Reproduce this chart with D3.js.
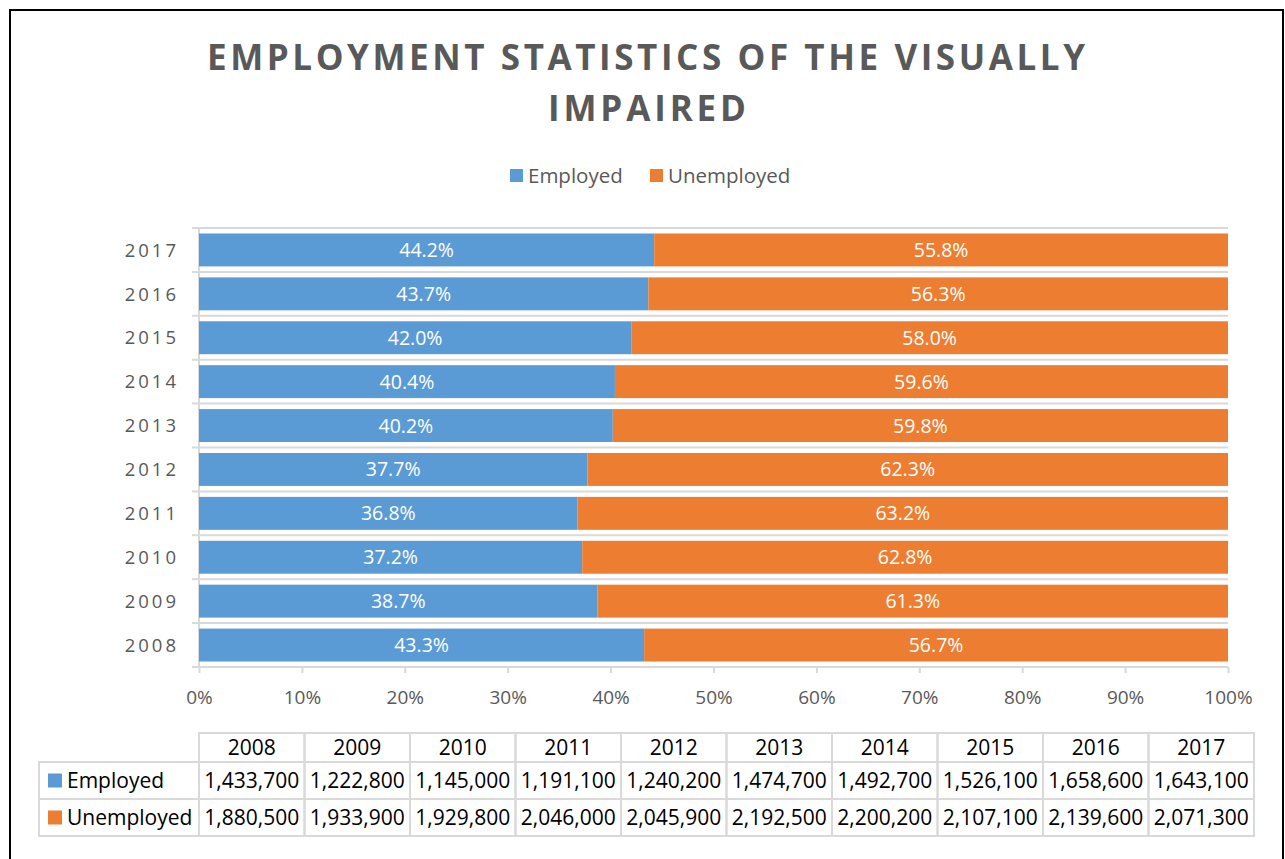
<!DOCTYPE html>
<html>
<head>
<meta charset="utf-8">
<script src="https://cdn.jsdelivr.net/npm/d3@7"></script>
<style>
  body { margin: 0; background: #fff; }
  svg { display: block; font-family: "Open Sans", "Noto Sans", sans-serif; }
</style>
</head>
<body>
<div id="chart"></div>
<script>
// Employment statistics of the visually impaired, 2008-2017
const years = ["2008", "2009", "2010", "2011", "2012", "2013", "2014", "2015", "2016", "2017"];
const employed = [1433700, 1222800, 1145000, 1191100, 1240200, 1474700, 1492700, 1526100, 1658600, 1643100];
const unemployed = [1880500, 1933900, 1929800, 2046000, 2045900, 2192500, 2200200, 2107100, 2139600, 2071300];
const seriesNames = ["Employed", "Unemployed"];
const seriesColors = ["#5B9BD5", "#ED7D31"];
const xTicks = [0, 0.1, 0.2, 0.3, 0.4, 0.5, 0.6, 0.7, 0.8, 0.9, 1];

const width = 1285, height = 859;
const textGray = "#595959";
const gridGray = "#d9d9d9";

const svg = d3.select("#chart").append("svg")
  .attr("width", width)
  .attr("height", height);

// outer frame
svg.append("rect")
  .attr("x", 10).attr("y", 10)
  .attr("width", 1273).attr("height", 870)
  .attr("fill", "#fff")
  .attr("stroke", "#000")
  .attr("stroke-width", 2);

// title (letter-spaced, like the original)
const title = svg.append("g").attr("fill", textGray)
  .attr("font-weight", "bold")
  .attr("font-size", 35)
  .attr("text-anchor", "middle");
title.append("text").attr("x", 646).attr("y", 70)
  .attr("textLength", 878).attr("lengthAdjust", "spacing")
  .text("EMPLOYMENT STATISTICS OF THE VISUALLY");
title.append("text").attr("x", 647).attr("y", 121)
  .attr("textLength", 198).attr("lengthAdjust", "spacing")
  .text("IMPAIRED");

// legend
const legendX = [510, 650];
seriesNames.forEach((name, i) => {
  svg.append("rect")
    .attr("x", legendX[i]).attr("y", 169)
    .attr("width", 13).attr("height", 13)
    .attr("fill", seriesColors[i]);
  svg.append("text")
    .attr("x", legendX[i] + 18).attr("y", 183)
    .attr("fill", textGray)
    .attr("font-size", 20.5)
    .text(name);
});

// scales
const x = d3.scaleLinear().domain([0, 1]).range([199, 1228]);
const y = d3.scaleBand()
  .domain(years.slice().reverse())
  .range([228, 667])
  .paddingInner(0.25)
  .paddingOuter(0.125);

const rows = years.map((yr, i) => {
  const total = employed[i] + unemployed[i];
  return { year: yr, emp: employed[i] / total, unemp: unemployed[i] / total };
});

// horizontal gridlines at category boundaries
const bounds = y.domain().map(d => y(d) - y.step() * y.paddingInner() / 2);
bounds.push(y.range()[1]);
svg.append("g").selectAll("line")
  .data(bounds)
  .enter().append("line")
  .attr("x1", 192).attr("x2", x(1))
  .attr("y1", d => d).attr("y2", d => d)
  .attr("stroke", gridGray)
  .attr("stroke-width", 2);

// vertical axis line
svg.append("line")
  .attr("x1", x(0)).attr("x2", x(0))
  .attr("y1", 228).attr("y2", 667)
  .attr("stroke", gridGray)
  .attr("stroke-width", 2);

// x axis
const xAxis = svg.append("g")
  .attr("transform", "translate(0,667)")
  .call(d3.axisBottom(x).tickValues(xTicks).tickFormat(d3.format(".0%")).tickSize(6).tickPadding(18));
xAxis.select(".domain").remove();
xAxis.selectAll(".tick line").attr("stroke", gridGray).attr("stroke-width", 2);
xAxis.selectAll(".tick text")
  .attr("fill", textGray)
  .attr("font-size", 19)
  .attr("font-family", "Open Sans, sans-serif");

// year labels
svg.append("g").selectAll("text")
  .data(rows)
  .enter().append("text")
  .attr("x", 179)
  .attr("y", d => y(d.year) + y.bandwidth() / 2)
  .attr("dy", "0.36em")
  .attr("text-anchor", "end")
  .attr("fill", textGray)
  .attr("font-size", 18.5)
  .attr("letter-spacing", 3)
  .text(d => d.year);

// stacked bars
const bars = svg.append("g");
bars.selectAll("rect.emp")
  .data(rows)
  .enter().append("rect")
  .attr("class", "emp")
  .attr("x", x(0))
  .attr("y", d => y(d.year))
  .attr("width", d => x(d.emp) - x(0))
  .attr("height", y.bandwidth())
  .attr("fill", seriesColors[0]);
bars.selectAll("rect.unemp")
  .data(rows)
  .enter().append("rect")
  .attr("class", "unemp")
  .attr("x", d => x(d.emp))
  .attr("y", d => y(d.year))
  .attr("width", d => x(1) - x(d.emp))
  .attr("height", y.bandwidth())
  .attr("fill", seriesColors[1]);

// bar labels
const pct = d3.format(".1%");
const labels = svg.append("g")
  .attr("fill", "#fff")
  .attr("font-size", 19.5)
  .attr("text-anchor", "middle");
labels.selectAll("text.emp")
  .data(rows)
  .enter().append("text")
  .attr("x", d => (x(0) + x(d.emp)) / 2)
  .attr("y", d => y(d.year) + y.bandwidth() / 2)
  .attr("dy", "0.36em")
  .text(d => pct(d.emp));
labels.selectAll("text.unemp")
  .data(rows)
  .enter().append("text")
  .attr("x", d => (x(d.emp) + x(1)) / 2)
  .attr("y", d => y(d.year) + y.bandwidth() / 2)
  .attr("dy", "0.36em")
  .text(d => pct(d.unemp));

// data table below the chart
const col = d3.scaleBand().domain(years).range([199, 1254]);
const rowY = [733, 762, 799, 836];
const table = svg.append("g");
const fmt = d3.format(",");

// header cells
table.selectAll("rect.head")
  .data(years)
  .enter().append("rect")
  .attr("x", d => col(d)).attr("y", rowY[0])
  .attr("width", col.bandwidth()).attr("height", rowY[1] - rowY[0])
  .attr("fill", "none").attr("stroke", gridGray).attr("stroke-width", 2);
table.selectAll("text.head")
  .data(years)
  .enter().append("text")
  .attr("x", d => col(d) + col.bandwidth() / 2)
  .attr("y", (rowY[0] + rowY[1]) / 2)
  .attr("dy", "0.36em")
  .attr("text-anchor", "middle")
  .attr("font-size", 21)
  .attr("fill", "#000")
  .text(d => d);

[employed, unemployed].forEach((vals, r) => {
  const top = rowY[r + 1], bottom = rowY[r + 2], mid = (top + bottom) / 2;
  // row label cell
  table.append("rect")
    .attr("x", 39).attr("y", top)
    .attr("width", 199 - 39).attr("height", bottom - top)
    .attr("fill", "none").attr("stroke", gridGray).attr("stroke-width", 2);
  table.append("rect")
    .attr("x", 48).attr("y", mid - 7)
    .attr("width", 14).attr("height", 14)
    .attr("fill", seriesColors[r]);
  table.append("text")
    .attr("x", 67).attr("y", mid)
    .attr("dy", "0.36em")
    .attr("font-size", 21)
    .attr("fill", "#000")
    .text(seriesNames[r]);
  // value cells
  table.selectAll("rect.v" + r)
    .data(years)
    .enter().append("rect")
    .attr("x", d => col(d)).attr("y", top)
    .attr("width", col.bandwidth()).attr("height", bottom - top)
    .attr("fill", "none").attr("stroke", gridGray).attr("stroke-width", 2);
  table.selectAll("text.v" + r)
    .data(vals)
    .enter().append("text")
    .attr("x", (d, i) => col(years[i]) + col.bandwidth() / 2)
    .attr("y", mid)
    .attr("dy", "0.36em")
    .attr("text-anchor", "middle")
    .attr("font-size", 21)
    .attr("fill", "#000")
    .text(d => fmt(d));
});
</script>
</body>
</html>
